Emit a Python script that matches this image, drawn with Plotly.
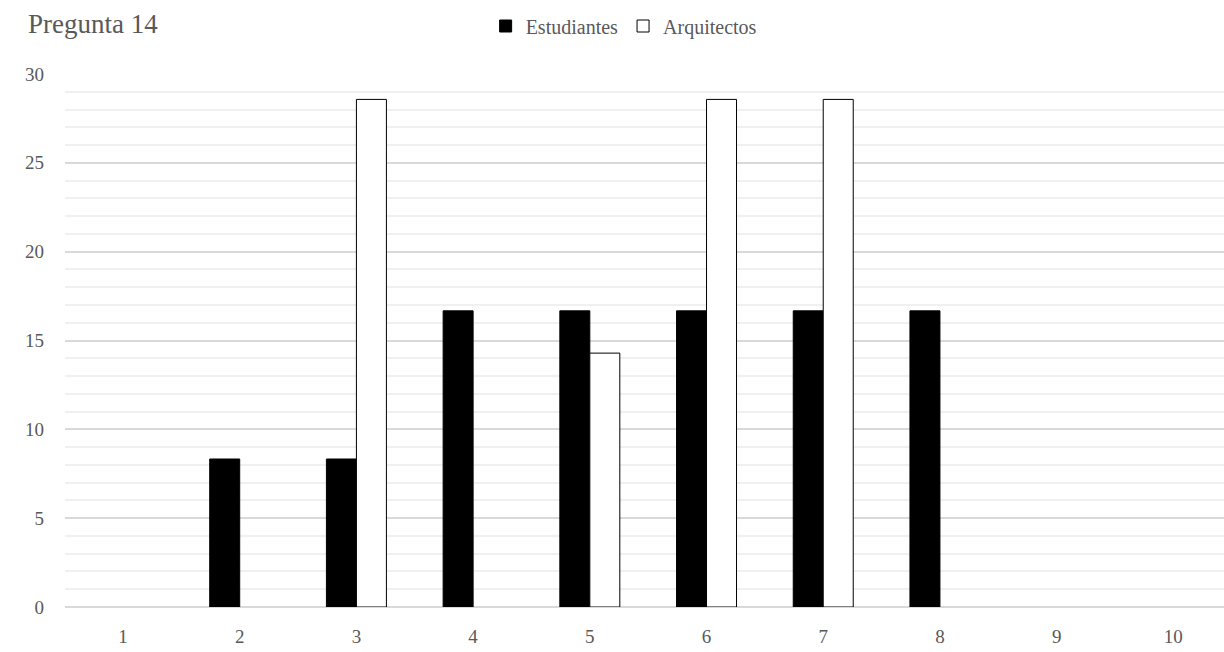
import plotly.graph_objects as go

# Pregunta 14: share of answers per option (%)
opciones = ["1", "2", "3", "4", "5", "6", "7", "8", "9", "10"]
estudiantes = [0, 8.33, 8.33, 16.67, 16.67, 16.67, 16.67, 16.67, 0, 0]
arquitectos = [0, 0, 28.57, 0, 14.29, 28.57, 28.57, 0, 0, 0]

pos = list(range(len(opciones)))
bar_w = 0.257
font_family = "Liberation Serif, DejaVu Serif, serif"
text_gray = "#595959"


def drop_zero(values):
    # zero-height bars would still show their outline, so leave them out
    return [v if v else None for v in values]


fig = go.Figure()
fig.add_trace(go.Bar(
    x=pos, y=drop_zero(estudiantes), name="Estudiantes",
    width=bar_w, offset=-bar_w,
    marker=dict(color="#000000", line=dict(color="#000000", width=1)),
))
fig.add_trace(go.Bar(
    x=pos, y=drop_zero(arquitectos), name="Arquitectos",
    width=bar_w, offset=0,
    marker=dict(color="#ffffff", line=dict(color="#000000", width=1)),
))

fig.update_layout(
    width=1224, height=652,
    margin=dict(l=65, r=0, t=74, b=45),
    plot_bgcolor="white", paper_bgcolor="white",
    font=dict(family=font_family, size=19, color=text_gray),
    title=dict(text="Pregunta 14", x=28 / 1224, xanchor="left",
               y=1 - 24 / 652, yanchor="middle",
               font=dict(family=font_family, size=27, color=text_gray)),
    legend=dict(orientation="h", x=0.482, xanchor="center",
                y=1 - 26 / 652, yanchor="middle", yref="container",
                font=dict(family=font_family, size=20, color=text_gray),
                itemwidth=30, traceorder="normal"),
    showlegend=True,
    barmode="overlay",
    xaxis=dict(
        range=[-0.497, 9.434],
        tickmode="array", tickvals=pos, ticktext=opciones,
        showgrid=False, zeroline=False, showline=False,
        ticklabelstandoff=16,
        tickfont=dict(family=font_family, size=19, color=text_gray),
    ),
    yaxis=dict(
        range=[0, 30], dtick=5,
        showgrid=True, gridcolor="#d9d9d9", gridwidth=1.5,
        minor=dict(dtick=1, showgrid=True, gridcolor="#f0f0f0", gridwidth=1.5),
        zeroline=True, zerolinecolor="#d9d9d9", zerolinewidth=1.5,
        showline=False,
        ticklabelstandoff=20,
        tickfont=dict(family=font_family, size=19, color=text_gray),
    ),
)

fig.write_html("out.html")
